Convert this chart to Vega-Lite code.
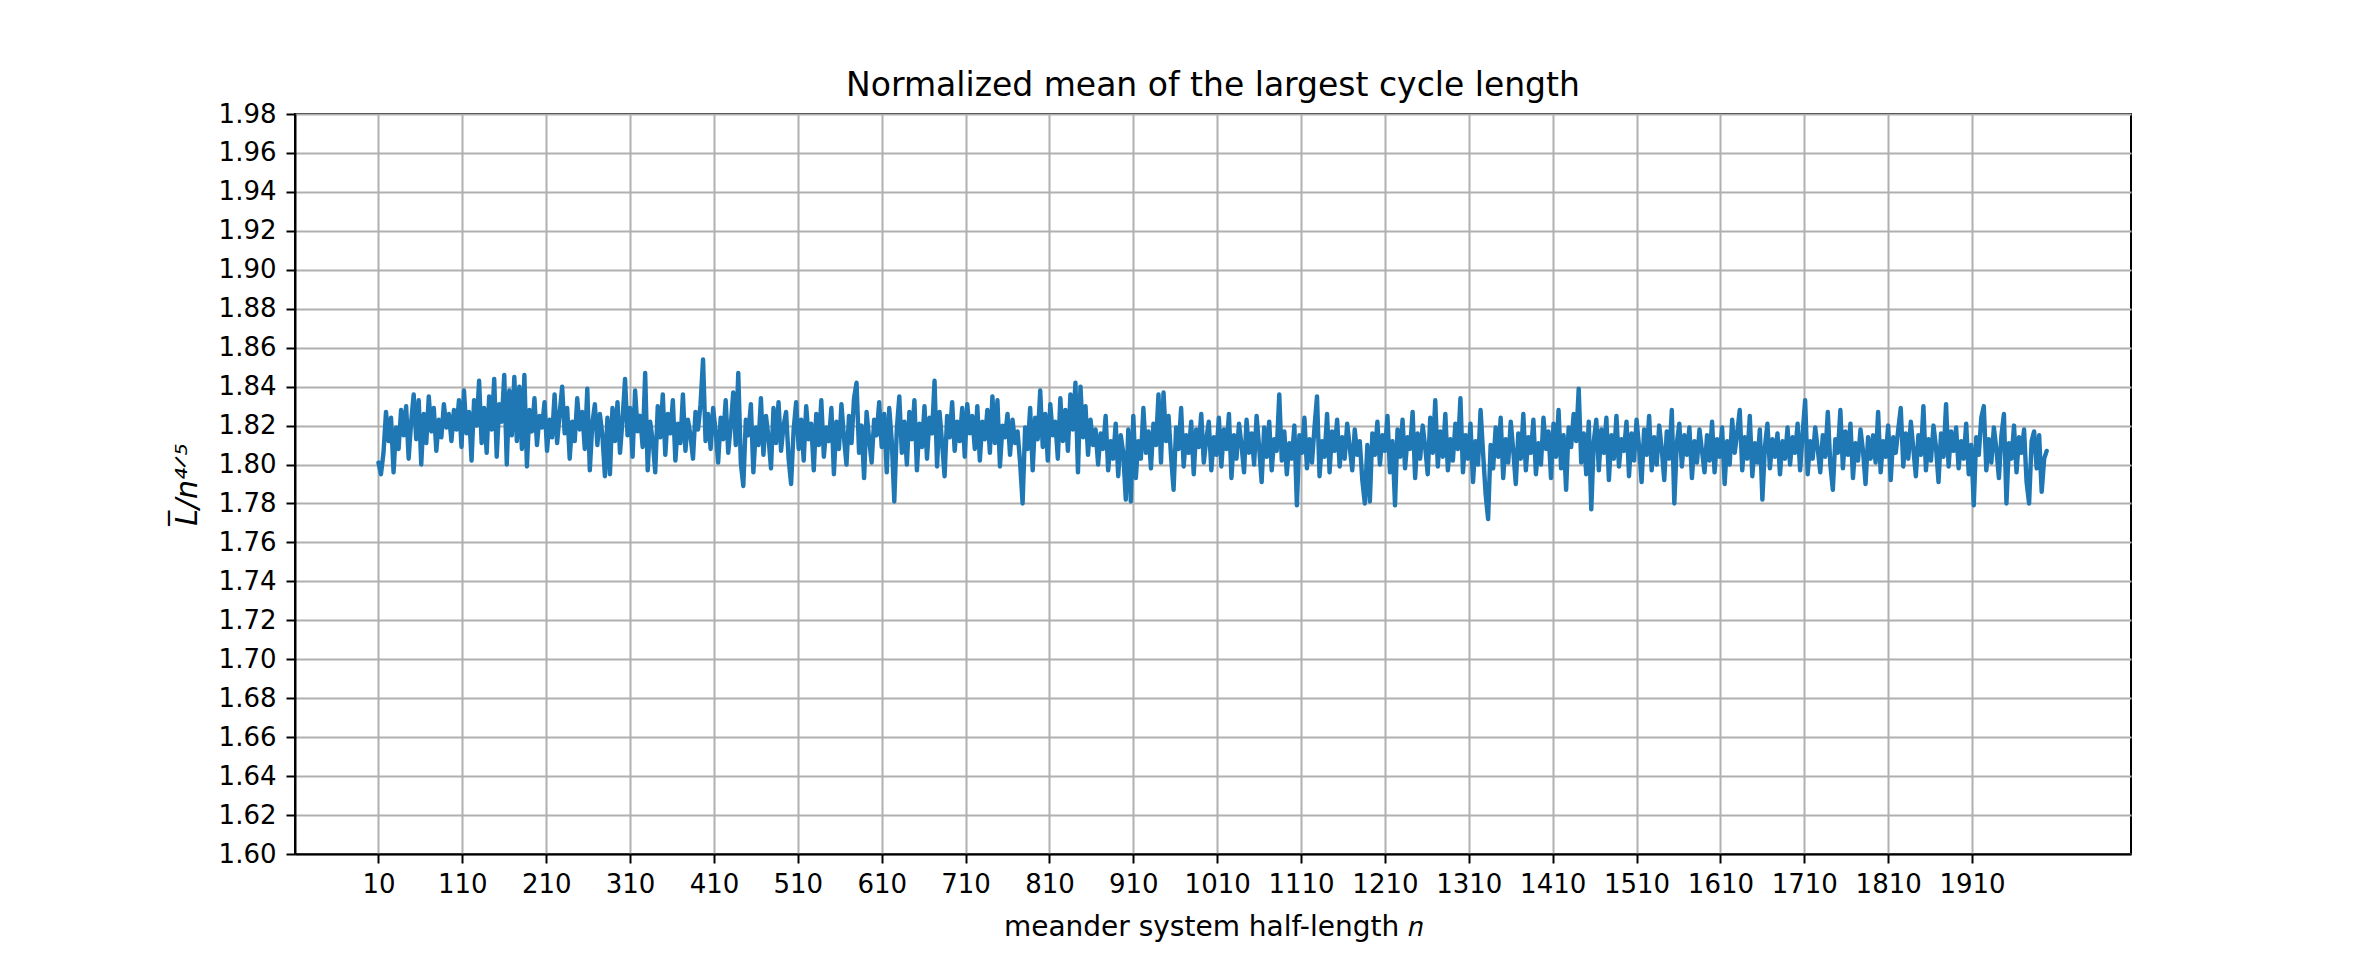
{
  "$schema": "https://vega.github.io/schema/vega-lite/v6.json",
  "width": 1836,
  "height": 740,
  "autosize": {"type": "none"},
  "padding": {"left": 295, "top": 114, "right": 237, "bottom": 106},
  "background": "white",
  "title": {"text": "Normalized mean of the largest cycle length", "font": "DejaVu Sans", "fontSize": 33, "fontWeight": "normal", "color": "black", "baseline": "alphabetic", "frame": "group", "offset": -28},
  "config": {
    "view": {"stroke": "black", "strokeWidth": 2},
    "axis": {"labelFont": "DejaVu Sans", "labelFontSize": 26, "labelColor": "black", "titleFont": "DejaVu Sans", "titleFontSize": 28, "titleFontWeight": "normal", "titleColor": "black", "domainColor": "black", "domainWidth": 2, "tickColor": "black", "tickWidth": 2, "tickSize": 9, "gridColor": "#b0b0b0", "gridWidth": 2, "gridOpacity": 1}
  },
  "data": {"values": [
{"n":10,"v":1.801},{"n":13,"v":1.795},{"n":16,"v":1.806},{"n":19,"v":1.827},{"n":22,"v":1.812},{"n":25,"v":1.824},{"n":28,"v":1.796},{"n":31,"v":1.819},{"n":34,"v":1.808},{"n":37,"v":1.828},{"n":40,"v":1.815},{"n":43,"v":1.830},{"n":46,"v":1.803},{"n":49,"v":1.822},{"n":52,"v":1.836},{"n":55,"v":1.813},{"n":58,"v":1.833},{"n":61,"v":1.800},{"n":64,"v":1.826},{"n":67,"v":1.811},{"n":70,"v":1.835},{"n":73,"v":1.817},{"n":76,"v":1.829},{"n":79,"v":1.807},{"n":82,"v":1.823},{"n":85,"v":1.814},{"n":88,"v":1.831},{"n":91,"v":1.819},{"n":94,"v":1.826},{"n":97,"v":1.812},{"n":100,"v":1.828},{"n":103,"v":1.818},{"n":106,"v":1.833},
{"n":109,"v":1.809},{"n":112,"v":1.838},{"n":115,"v":1.816},{"n":118,"v":1.827},{"n":121,"v":1.802},{"n":124,"v":1.833},{"n":127,"v":1.820},{"n":130,"v":1.843},{"n":133,"v":1.811},{"n":136,"v":1.829},{"n":139,"v":1.806},{"n":142,"v":1.835},{"n":145,"v":1.818},{"n":148,"v":1.844},{"n":151,"v":1.804},{"n":154,"v":1.831},{"n":157,"v":1.822},{"n":160,"v":1.846},{"n":163,"v":1.800},{"n":166,"v":1.838},{"n":169,"v":1.815},{"n":172,"v":1.845},{"n":175,"v":1.812},{"n":178,"v":1.840},{"n":181,"v":1.808},{"n":184,"v":1.846},{"n":187,"v":1.799},{"n":190,"v":1.828},{"n":193,"v":1.817},{"n":196,"v":1.834},{"n":199,"v":1.810},{"n":202,"v":1.825},{"n":205,"v":1.819},
{"n":208,"v":1.832},{"n":211,"v":1.807},{"n":214,"v":1.823},{"n":217,"v":1.814},{"n":220,"v":1.836},{"n":223,"v":1.811},{"n":226,"v":1.826},{"n":229,"v":1.840},{"n":232,"v":1.816},{"n":235,"v":1.829},{"n":238,"v":1.803},{"n":241,"v":1.822},{"n":244,"v":1.812},{"n":247,"v":1.834},{"n":250,"v":1.818},{"n":253,"v":1.827},{"n":256,"v":1.808},{"n":259,"v":1.839},{"n":262,"v":1.797},{"n":265,"v":1.821},{"n":268,"v":1.831},{"n":271,"v":1.810},{"n":274,"v":1.826},{"n":277,"v":1.815},{"n":280,"v":1.794},{"n":283,"v":1.824},{"n":286,"v":1.795},{"n":289,"v":1.829},{"n":292,"v":1.812},{"n":295,"v":1.832},{"n":298,"v":1.806},{"n":301,"v":1.823},{"n":304,"v":1.844},
{"n":307,"v":1.815},{"n":310,"v":1.829},{"n":313,"v":1.804},{"n":316,"v":1.838},{"n":319,"v":1.817},{"n":322,"v":1.825},{"n":325,"v":1.809},{"n":328,"v":1.847},{"n":331,"v":1.797},{"n":334,"v":1.822},{"n":337,"v":1.812},{"n":340,"v":1.796},{"n":343,"v":1.830},{"n":346,"v":1.814},{"n":349,"v":1.836},{"n":352,"v":1.805},{"n":355,"v":1.826},{"n":358,"v":1.816},{"n":361,"v":1.833},{"n":364,"v":1.802},{"n":367,"v":1.821},{"n":370,"v":1.811},{"n":373,"v":1.836},{"n":376,"v":1.807},{"n":379,"v":1.823},{"n":382,"v":1.815},{"n":385,"v":1.803},{"n":388,"v":1.827},{"n":391,"v":1.818},{"n":394,"v":1.831},{"n":397,"v":1.854},{"n":400,"v":1.812},{"n":403,"v":1.826},
{"n":406,"v":1.808},{"n":409,"v":1.829},{"n":412,"v":1.817},{"n":415,"v":1.801},{"n":418,"v":1.824},{"n":421,"v":1.813},{"n":424,"v":1.833},{"n":427,"v":1.806},{"n":430,"v":1.820},{"n":433,"v":1.837},{"n":436,"v":1.810},{"n":439,"v":1.847},{"n":442,"v":1.801},{"n":445,"v":1.789},{"n":448,"v":1.823},{"n":451,"v":1.815},{"n":454,"v":1.831},{"n":457,"v":1.796},{"n":460,"v":1.819},{"n":463,"v":1.810},{"n":466,"v":1.834},{"n":469,"v":1.805},{"n":472,"v":1.825},{"n":475,"v":1.814},{"n":478,"v":1.798},{"n":481,"v":1.829},{"n":484,"v":1.811},{"n":487,"v":1.832},{"n":490,"v":1.807},{"n":493,"v":1.820},{"n":496,"v":1.827},{"n":499,"v":1.803},{"n":502,"v":1.790},
{"n":505,"v":1.818},{"n":508,"v":1.832},{"n":511,"v":1.808},{"n":514,"v":1.823},{"n":517,"v":1.802},{"n":520,"v":1.830},{"n":523,"v":1.813},{"n":526,"v":1.821},{"n":529,"v":1.797},{"n":532,"v":1.826},{"n":535,"v":1.810},{"n":538,"v":1.833},{"n":541,"v":1.804},{"n":544,"v":1.819},{"n":547,"v":1.812},{"n":550,"v":1.829},{"n":553,"v":1.795},{"n":556,"v":1.822},{"n":559,"v":1.808},{"n":562,"v":1.831},{"n":565,"v":1.814},{"n":568,"v":1.800},{"n":571,"v":1.825},{"n":574,"v":1.811},{"n":577,"v":1.834},{"n":580,"v":1.842},{"n":583,"v":1.806},{"n":586,"v":1.820},{"n":589,"v":1.793},{"n":592,"v":1.827},{"n":595,"v":1.813},{"n":598,"v":1.801},{"n":601,"v":1.823},
{"n":604,"v":1.815},{"n":607,"v":1.832},{"n":610,"v":1.809},{"n":613,"v":1.826},{"n":616,"v":1.796},{"n":619,"v":1.829},{"n":622,"v":1.812},{"n":625,"v":1.781},{"n":628,"v":1.818},{"n":631,"v":1.835},{"n":634,"v":1.806},{"n":637,"v":1.822},{"n":640,"v":1.800},{"n":643,"v":1.827},{"n":646,"v":1.813},{"n":649,"v":1.833},{"n":652,"v":1.797},{"n":655,"v":1.821},{"n":658,"v":1.809},{"n":661,"v":1.830},{"n":664,"v":1.803},{"n":667,"v":1.824},{"n":670,"v":1.816},{"n":673,"v":1.843},{"n":676,"v":1.799},{"n":679,"v":1.827},{"n":682,"v":1.811},{"n":685,"v":1.794},{"n":688,"v":1.825},{"n":691,"v":1.814},{"n":694,"v":1.832},{"n":697,"v":1.807},{"n":700,"v":1.822},
{"n":703,"v":1.812},{"n":706,"v":1.829},{"n":709,"v":1.804},{"n":712,"v":1.831},{"n":715,"v":1.816},{"n":718,"v":1.825},{"n":721,"v":1.808},{"n":724,"v":1.830},{"n":727,"v":1.802},{"n":730,"v":1.822},{"n":733,"v":1.813},{"n":736,"v":1.828},{"n":739,"v":1.806},{"n":742,"v":1.835},{"n":745,"v":1.811},{"n":748,"v":1.833},{"n":751,"v":1.799},{"n":754,"v":1.820},{"n":757,"v":1.814},{"n":760,"v":1.826},{"n":763,"v":1.805},{"n":766,"v":1.823},{"n":769,"v":1.811},{"n":772,"v":1.817},{"n":775,"v":1.801},{"n":778,"v":1.780},{"n":781,"v":1.819},{"n":784,"v":1.808},{"n":787,"v":1.829},{"n":790,"v":1.797},{"n":793,"v":1.824},{"n":796,"v":1.813},{"n":799,"v":1.838},
{"n":802,"v":1.809},{"n":805,"v":1.826},{"n":808,"v":1.802},{"n":811,"v":1.831},{"n":814,"v":1.815},{"n":817,"v":1.822},{"n":820,"v":1.803},{"n":823,"v":1.834},{"n":826,"v":1.812},{"n":829,"v":1.828},{"n":832,"v":1.807},{"n":835,"v":1.836},{"n":838,"v":1.818},{"n":841,"v":1.842},{"n":844,"v":1.796},{"n":847,"v":1.840},{"n":850,"v":1.814},{"n":853,"v":1.830},{"n":856,"v":1.805},{"n":859,"v":1.823},{"n":862,"v":1.810},{"n":865,"v":1.818},{"n":868,"v":1.800},{"n":871,"v":1.816},{"n":874,"v":1.808},{"n":877,"v":1.825},{"n":880,"v":1.797},{"n":883,"v":1.812},{"n":886,"v":1.803},{"n":889,"v":1.821},{"n":892,"v":1.794},{"n":895,"v":1.815},{"n":898,"v":1.806},
{"n":901,"v":1.782},{"n":904,"v":1.818},{"n":907,"v":1.781},{"n":910,"v":1.825},{"n":913,"v":1.793},{"n":916,"v":1.812},{"n":919,"v":1.803},{"n":922,"v":1.829},{"n":925,"v":1.806},{"n":928,"v":1.817},{"n":931,"v":1.798},{"n":934,"v":1.821},{"n":937,"v":1.810},{"n":940,"v":1.836},{"n":943,"v":1.801},{"n":946,"v":1.837},{"n":949,"v":1.812},{"n":952,"v":1.825},{"n":955,"v":1.804},{"n":958,"v":1.787},{"n":961,"v":1.819},{"n":964,"v":1.808},{"n":967,"v":1.829},{"n":970,"v":1.799},{"n":973,"v":1.815},{"n":976,"v":1.806},{"n":979,"v":1.822},{"n":982,"v":1.795},{"n":985,"v":1.818},{"n":988,"v":1.809},{"n":991,"v":1.826},{"n":994,"v":1.801},{"n":997,"v":1.813},
{"n":1000,"v":1.822},{"n":1003,"v":1.797},{"n":1006,"v":1.814},{"n":1009,"v":1.805},{"n":1012,"v":1.824},{"n":1015,"v":1.799},{"n":1018,"v":1.818},{"n":1021,"v":1.808},{"n":1024,"v":1.826},{"n":1027,"v":1.793},{"n":1030,"v":1.815},{"n":1033,"v":1.803},{"n":1036,"v":1.821},{"n":1039,"v":1.810},{"n":1042,"v":1.796},{"n":1045,"v":1.823},{"n":1048,"v":1.806},{"n":1051,"v":1.816},{"n":1054,"v":1.800},{"n":1057,"v":1.825},{"n":1060,"v":1.809},{"n":1063,"v":1.791},{"n":1066,"v":1.819},{"n":1069,"v":1.804},{"n":1072,"v":1.822},{"n":1075,"v":1.797},{"n":1078,"v":1.813},{"n":1081,"v":1.807},{"n":1084,"v":1.836},{"n":1087,"v":1.802},{"n":1090,"v":1.817},{"n":1093,"v":1.795},{"n":1096,"v":1.811},
{"n":1099,"v":1.803},{"n":1102,"v":1.820},{"n":1105,"v":1.779},{"n":1108,"v":1.815},{"n":1111,"v":1.806},{"n":1114,"v":1.824},{"n":1117,"v":1.798},{"n":1120,"v":1.813},{"n":1123,"v":1.801},{"n":1126,"v":1.819},{"n":1129,"v":1.835},{"n":1132,"v":1.794},{"n":1135,"v":1.812},{"n":1138,"v":1.804},{"n":1141,"v":1.826},{"n":1144,"v":1.796},{"n":1147,"v":1.817},{"n":1150,"v":1.807},{"n":1153,"v":1.823},{"n":1156,"v":1.799},{"n":1159,"v":1.814},{"n":1162,"v":1.803},{"n":1165,"v":1.821},{"n":1168,"v":1.809},{"n":1171,"v":1.797},{"n":1174,"v":1.818},{"n":1177,"v":1.805},{"n":1180,"v":1.812},{"n":1183,"v":1.792},{"n":1186,"v":1.780},{"n":1189,"v":1.810},{"n":1192,"v":1.781},{"n":1195,"v":1.816},
{"n":1198,"v":1.805},{"n":1201,"v":1.822},{"n":1204,"v":1.800},{"n":1207,"v":1.815},{"n":1210,"v":1.807},{"n":1213,"v":1.825},{"n":1216,"v":1.796},{"n":1219,"v":1.812},{"n":1222,"v":1.779},{"n":1225,"v":1.818},{"n":1228,"v":1.804},{"n":1231,"v":1.823},{"n":1234,"v":1.798},{"n":1237,"v":1.814},{"n":1240,"v":1.808},{"n":1243,"v":1.827},{"n":1246,"v":1.793},{"n":1249,"v":1.816},{"n":1252,"v":1.803},{"n":1255,"v":1.820},{"n":1258,"v":1.809},{"n":1261,"v":1.795},{"n":1264,"v":1.824},{"n":1267,"v":1.806},{"n":1270,"v":1.833},{"n":1273,"v":1.799},{"n":1276,"v":1.817},{"n":1279,"v":1.804},{"n":1282,"v":1.826},{"n":1285,"v":1.797},{"n":1288,"v":1.813},{"n":1291,"v":1.802},{"n":1294,"v":1.821},
{"n":1297,"v":1.808},{"n":1300,"v":1.834},{"n":1303,"v":1.796},{"n":1306,"v":1.815},{"n":1309,"v":1.803},{"n":1312,"v":1.821},{"n":1315,"v":1.791},{"n":1318,"v":1.812},{"n":1321,"v":1.800},{"n":1324,"v":1.828},{"n":1327,"v":1.806},{"n":1330,"v":1.785},{"n":1333,"v":1.772},{"n":1336,"v":1.810},{"n":1339,"v":1.798},{"n":1342,"v":1.819},{"n":1345,"v":1.804},{"n":1348,"v":1.824},{"n":1351,"v":1.793},{"n":1354,"v":1.813},{"n":1357,"v":1.801},{"n":1360,"v":1.822},{"n":1363,"v":1.807},{"n":1366,"v":1.790},{"n":1369,"v":1.816},{"n":1372,"v":1.803},{"n":1375,"v":1.826},{"n":1378,"v":1.797},{"n":1381,"v":1.814},{"n":1384,"v":1.806},{"n":1387,"v":1.823},{"n":1390,"v":1.795},{"n":1393,"v":1.811},
{"n":1396,"v":1.800},{"n":1399,"v":1.824},{"n":1402,"v":1.808},{"n":1405,"v":1.817},{"n":1408,"v":1.793},{"n":1411,"v":1.821},{"n":1414,"v":1.804},{"n":1417,"v":1.828},{"n":1420,"v":1.798},{"n":1423,"v":1.815},{"n":1426,"v":1.787},{"n":1429,"v":1.819},{"n":1432,"v":1.809},{"n":1435,"v":1.826},{"n":1438,"v":1.812},{"n":1441,"v":1.839},{"n":1444,"v":1.801},{"n":1447,"v":1.816},{"n":1450,"v":1.795},{"n":1453,"v":1.822},{"n":1456,"v":1.777},{"n":1459,"v":1.812},{"n":1462,"v":1.823},{"n":1465,"v":1.797},{"n":1468,"v":1.818},{"n":1471,"v":1.806},{"n":1474,"v":1.824},{"n":1477,"v":1.792},{"n":1480,"v":1.815},{"n":1483,"v":1.803},{"n":1486,"v":1.825},{"n":1489,"v":1.799},{"n":1492,"v":1.813},
{"n":1495,"v":1.807},{"n":1498,"v":1.822},{"n":1501,"v":1.794},{"n":1504,"v":1.816},{"n":1507,"v":1.802},{"n":1510,"v":1.823},{"n":1513,"v":1.809},{"n":1516,"v":1.791},{"n":1519,"v":1.818},{"n":1522,"v":1.805},{"n":1525,"v":1.825},{"n":1528,"v":1.797},{"n":1531,"v":1.814},{"n":1534,"v":1.800},{"n":1537,"v":1.820},{"n":1540,"v":1.808},{"n":1543,"v":1.792},{"n":1546,"v":1.817},{"n":1549,"v":1.803},{"n":1552,"v":1.828},{"n":1555,"v":1.780},{"n":1558,"v":1.811},{"n":1561,"v":1.821},{"n":1564,"v":1.799},{"n":1567,"v":1.815},{"n":1570,"v":1.805},{"n":1573,"v":1.819},{"n":1576,"v":1.793},{"n":1579,"v":1.812},{"n":1582,"v":1.801},{"n":1585,"v":1.818},{"n":1588,"v":1.807},{"n":1591,"v":1.796},
{"n":1594,"v":1.815},{"n":1597,"v":1.802},{"n":1600,"v":1.822},{"n":1603,"v":1.796},{"n":1606,"v":1.813},{"n":1609,"v":1.804},{"n":1612,"v":1.819},{"n":1615,"v":1.790},{"n":1618,"v":1.812},{"n":1621,"v":1.800},{"n":1624,"v":1.823},{"n":1627,"v":1.806},{"n":1630,"v":1.816},{"n":1633,"v":1.828},{"n":1636,"v":1.797},{"n":1639,"v":1.814},{"n":1642,"v":1.803},{"n":1645,"v":1.825},{"n":1648,"v":1.794},{"n":1651,"v":1.811},{"n":1654,"v":1.801},{"n":1657,"v":1.818},{"n":1660,"v":1.782},{"n":1663,"v":1.809},{"n":1666,"v":1.821},{"n":1669,"v":1.798},{"n":1672,"v":1.813},{"n":1675,"v":1.804},{"n":1678,"v":1.816},{"n":1681,"v":1.795},{"n":1684,"v":1.812},{"n":1687,"v":1.803},{"n":1690,"v":1.819},
{"n":1693,"v":1.800},{"n":1696,"v":1.814},{"n":1699,"v":1.806},{"n":1702,"v":1.821},{"n":1705,"v":1.797},{"n":1708,"v":1.816},{"n":1711,"v":1.833},{"n":1714,"v":1.795},{"n":1717,"v":1.812},{"n":1720,"v":1.803},{"n":1723,"v":1.819},{"n":1726,"v":1.808},{"n":1729,"v":1.796},{"n":1732,"v":1.815},{"n":1735,"v":1.804},{"n":1738,"v":1.827},{"n":1741,"v":1.800},{"n":1744,"v":1.787},{"n":1747,"v":1.813},{"n":1750,"v":1.806},{"n":1753,"v":1.828},{"n":1756,"v":1.798},{"n":1759,"v":1.817},{"n":1762,"v":1.805},{"n":1765,"v":1.821},{"n":1768,"v":1.793},{"n":1771,"v":1.811},{"n":1774,"v":1.802},{"n":1777,"v":1.818},{"n":1780,"v":1.807},{"n":1783,"v":1.790},{"n":1786,"v":1.814},{"n":1789,"v":1.803},
{"n":1792,"v":1.815},{"n":1795,"v":1.801},{"n":1798,"v":1.827},{"n":1801,"v":1.796},{"n":1804,"v":1.812},{"n":1807,"v":1.804},{"n":1810,"v":1.820},{"n":1813,"v":1.792},{"n":1816,"v":1.814},{"n":1819,"v":1.806},{"n":1822,"v":1.818},{"n":1825,"v":1.829},{"n":1828,"v":1.799},{"n":1831,"v":1.816},{"n":1834,"v":1.803},{"n":1837,"v":1.822},{"n":1840,"v":1.808},{"n":1843,"v":1.794},{"n":1846,"v":1.815},{"n":1849,"v":1.805},{"n":1852,"v":1.830},{"n":1855,"v":1.797},{"n":1858,"v":1.813},{"n":1861,"v":1.802},{"n":1864,"v":1.820},{"n":1867,"v":1.809},{"n":1870,"v":1.791},{"n":1873,"v":1.816},{"n":1876,"v":1.804},{"n":1879,"v":1.831},{"n":1882,"v":1.799},{"n":1885,"v":1.817},{"n":1888,"v":1.807},
{"n":1891,"v":1.819},{"n":1894,"v":1.798},{"n":1897,"v":1.812},{"n":1900,"v":1.803},{"n":1903,"v":1.821},{"n":1906,"v":1.795},{"n":1909,"v":1.810},{"n":1912,"v":1.779},{"n":1915,"v":1.814},{"n":1918,"v":1.805},{"n":1921,"v":1.824},{"n":1924,"v":1.830},{"n":1927,"v":1.797},{"n":1930,"v":1.813},{"n":1933,"v":1.801},{"n":1936,"v":1.819},{"n":1939,"v":1.808},{"n":1942,"v":1.793},{"n":1945,"v":1.815},{"n":1948,"v":1.826},{"n":1951,"v":1.780},{"n":1954,"v":1.811},{"n":1957,"v":1.803},{"n":1960,"v":1.820},{"n":1963,"v":1.796},{"n":1966,"v":1.814},{"n":1969,"v":1.806},{"n":1972,"v":1.818},{"n":1975,"v":1.791},{"n":1978,"v":1.780},{"n":1981,"v":1.812},{"n":1984,"v":1.817},{"n":1987,"v":1.798},{"n":1990,"v":1.815},{"n":1993,"v":1.786},{"n":1996,"v":1.803},{"n":1999,"v":1.807}
  ]},
  "mark": {"type": "line", "color": "#1f77b4", "strokeWidth": 4.4, "strokeJoin": "round", "strokeCap": "round", "clip": true},
  "encoding": {
    "x": {"field": "n", "type": "quantitative", "scale": {"domain": [-89.5, 2099.5], "nice": false, "zero": false},
      "axis": {"values": [10,110,210,310,410,510,610,710,810,910,1010,1110,1210,1310,1410,1510,1610,1710,1810,1910], "format": "d", "labelPadding": 8, "title": "meander system half-length 𝑛", "titlePadding": 16, "labelFlush": false, "labelOverlap": false}},
    "y": {"field": "v", "type": "quantitative", "scale": {"domain": [1.60, 1.98], "nice": false, "zero": false},
      "axis": {"values": [1.60,1.62,1.64,1.66,1.68,1.70,1.72,1.74,1.76,1.78,1.80,1.82,1.84,1.86,1.88,1.90,1.92,1.94,1.96,1.98], "format": ".2f", "labelPadding": 10, "title": "L̅/n⁴ᐟ⁵", "titleFontStyle": "italic", "titleFontSize": 30, "titlePadding": 16, "labelFlush": false, "labelOverlap": false}}
  }
}
